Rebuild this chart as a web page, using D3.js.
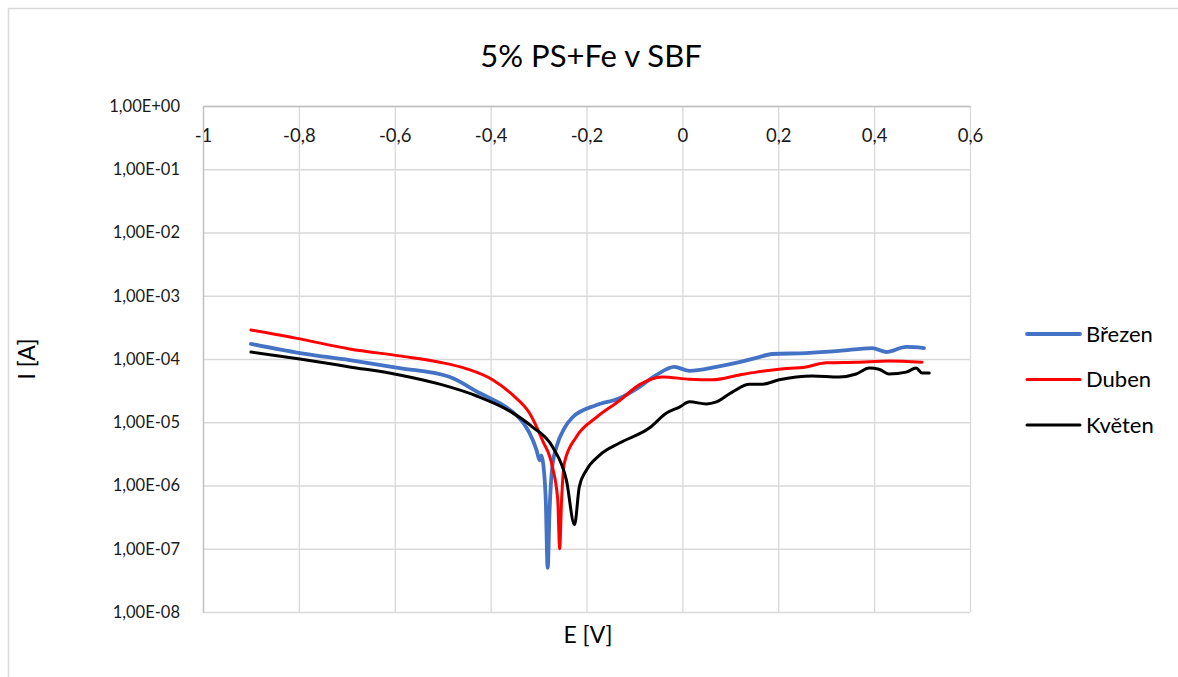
<!DOCTYPE html>
<html>
<head>
<meta charset="utf-8">
<script src="https://cdn.jsdelivr.net/npm/d3@7"></script>
<style>
  body { margin: 0; background: #fff; }
  svg { display: block; }
  svg text { font-family: Lato, "Open Sans", sans-serif; }
</style>
</head>
<body>
<svg id="chart" width="1178" height="677"></svg>
<script>
// E [V], I [A]
var brezenE = [-0.900, -0.798, -0.694, -0.590, -0.485, -0.423, -0.381, -0.354, -0.329, -0.319, -0.304, -0.298, -0.294, -0.290, -0.285, -0.281, -0.277, -0.271, -0.2625, -0.246, -0.229, -0.179, -0.131, -0.090, -0.054, -0.017, 0.015, 0.071, 0.119, 0.154, 0.1875, 0.258, 0.327, 0.396, 0.425, 0.467, 0.504];
var brezenI = [1.73e-4, 1.24e-4, 9.6e-5, 7.2e-5, 5.2e-5, 2.9e-5, 2.0e-5, 1.45e-5, 9.1e-6, 6.8e-6, 3.6e-6, 2.5e-6, 3.0e-6, 2.1e-6, 5.9e-7, 5.0e-8, 4.1e-7, 2.1e-6, 4.1e-6, 8.1e-6, 1.2e-5, 1.87e-5, 2.4e-5, 3.6e-5, 5.6e-5, 7.5e-5, 6.5e-5, 7.5e-5, 8.9e-5, 1.04e-4, 1.2e-4, 1.24e-4, 1.34e-4, 1.49e-4, 1.29e-4, 1.55e-4, 1.49e-4];

var dubenE = [-0.900, -0.798, -0.694, -0.590, -0.506, -0.450, -0.396, -0.354, -0.319, -0.292, -0.271, -0.260, -0.256, -0.252, -0.246, -0.221, -0.179, -0.131, -0.090, -0.042, 0.015, 0.0625, 0.119, 0.154, 0.202, 0.258, 0.300, 0.3625, 0.431, 0.500];
var dubenI = [2.88e-4, 2.08e-4, 1.44e-4, 1.12e-4, 8.9e-5, 7.0e-5, 4.7e-5, 2.7e-5, 1.4e-5, 5.2e-6, 1.96e-6, 5.9e-7, 1.0e-7, 5.9e-7, 2.3e-6, 5.9e-6, 1.2e-5, 2.2e-5, 3.9e-5, 5.2e-5, 4.8e-5, 4.7e-5, 5.6e-5, 6.2e-5, 6.9e-5, 7.5e-5, 8.7e-5, 8.9e-5, 9.3e-5, 8.9e-5];

var kvetenE = [-0.900, -0.798, -0.694, -0.590, -0.506, -0.429, -0.360, -0.3125, -0.271, -0.242, -0.225, -0.215, -0.200, -0.173, -0.131, -0.069, -0.033, -0.006, 0.015, 0.050, 0.071, 0.104, 0.140, 0.167, 0.202, 0.2375, 0.271, 0.327, 0.3625, 0.390, 0.410, 0.431, 0.467, 0.4875, 0.500, 0.515];
var kvetenI = [1.29e-4, 1.0e-4, 7.5e-5, 5.6e-5, 4.0e-5, 2.6e-5, 1.5e-5, 8.4e-6, 4.1e-6, 1.23e-6, 2.4e-7, 9.5e-7, 1.76e-6, 3.0e-6, 4.7e-6, 8.1e-6, 1.4e-5, 1.74e-5, 2.1e-5, 1.95e-5, 2.1e-5, 3.0e-5, 4.0e-5, 4.0e-5, 4.7e-5, 5.2e-5, 5.4e-5, 5.2e-5, 5.8e-5, 7.2e-5, 6.9e-5, 5.8e-5, 6.2e-5, 7.2e-5, 6.0e-5, 6.0e-5];

var seriesNames = ['Březen', 'Duben', 'Květen'];
var colors = ['#4472C4', '#FF0000', '#000000'];
var widths = [3.8, 3, 3];
var xTicks = [-1, -0.8, -0.6, -0.4, -0.2, 0, 0.2, 0.4, 0.6];
var yTicks = [1e0, 1e-1, 1e-2, 1e-3, 1e-4, 1e-5, 1e-6, 1e-7, 1e-8];
var yTickLabels = ['1,00E+00', '1,00E-01', '1,00E-02', '1,00E-03', '1,00E-04', '1,00E-05', '1,00E-06', '1,00E-07', '1,00E-08'];

var series = [[brezenE, brezenI], [dubenE, dubenI], [kvetenE, kvetenI]].map(function(s, i) {
  return {
    name: seriesNames[i],
    points: s[0].map(function(e, j) { return {e: e, i: s[1][j]}; })
  };
});

var svg = d3.select('#chart');
var plotLeft = 203, plotRight = 970, plotTop = 106, plotBottom = 612;

// chart frame (only top and left edges are visible in the picture)
svg.append('rect')
  .attr('x', 8.5).attr('y', 8.5)
  .attr('width', 1300).attr('height', 800)
  .attr('fill', 'none').attr('stroke', '#d9d9d9').attr('stroke-width', 1.5);

var x = d3.scaleLinear().domain([-1, 0.6]).range([plotLeft, plotRight]);
var y = d3.scaleLog().domain([1e-8, 1]).range([plotBottom, plotTop]);

// gridlines
svg.append('g')
  .attr('transform', 'translate(0,' + plotBottom + ')')
  .call(d3.axisBottom(x).tickValues(xTicks).tickSize(-(plotBottom - plotTop)).tickFormat(''))
  .call(function(g) {
    g.select('.domain').remove();
    g.selectAll('line').attr('stroke', '#d9d9d9').attr('stroke-width', 1.3);
  });

svg.append('g')
  .attr('transform', 'translate(' + plotLeft + ',0)')
  .call(d3.axisLeft(y).tickValues(yTicks).tickSize(-(plotRight - plotLeft)).tickFormat(''))
  .call(function(g) {
    g.select('.domain').remove();
    g.selectAll('line').attr('stroke', '#d9d9d9').attr('stroke-width', 1.3);
  });

// x axis crosses at 1 (top), labels below the line
svg.append('g')
  .attr('transform', 'translate(0,' + plotTop + ')')
  .call(d3.axisBottom(x).tickValues(xTicks).tickSize(0).tickPadding(23)
    .tickFormat(function(d) { return String(Math.round(d * 10) / 10).replace('.', ','); }))
  .call(function(g) {
    g.attr('font-family', null);
    g.select('.domain').attr('stroke', '#bfbfbf').attr('stroke-width', 1.3);
    g.selectAll('text').attr('font-size', 18.5).attr('fill', '#1a1a1a');
  });

svg.append('g')
  .attr('transform', 'translate(' + plotLeft + ',0)')
  .call(d3.axisLeft(y).tickValues(yTicks).tickSize(0).tickPadding(23)
    .tickFormat(function(d, i) { return yTickLabels[i]; }))
  .call(function(g) {
    g.attr('font-family', null);
    g.select('.domain').attr('stroke', '#bfbfbf').attr('stroke-width', 1.3);
    g.selectAll('text').attr('font-size', 16.5).attr('fill', '#1a1a1a');
  });

var line = d3.line()
  .curve(d3.curveMonotoneX)
  .x(function(d) { return x(d.e); })
  .y(function(d) { return y(d.i); });

svg.append('g')
  .selectAll('path')
  .data(series)
  .join('path')
  .attr('d', function(d) { return line(d.points); })
  .attr('fill', 'none')
  .attr('stroke', function(d, i) { return colors[i]; })
  .attr('stroke-width', function(d, i) { return widths[i]; })
  .attr('stroke-linejoin', 'round')
  .attr('stroke-linecap', 'round');

// titles
svg.append('text')
  .attr('x', 591).attr('y', 67)
  .attr('text-anchor', 'middle')
  .attr('font-size', 31).attr('fill', '#000')
  .text('5% PS+Fe v SBF');

svg.append('text')
  .attr('x', 588).attr('y', 643)
  .attr('text-anchor', 'middle')
  .attr('font-size', 23).attr('fill', '#000')
  .text('E [V]');

svg.append('text')
  .attr('transform', 'translate(35,359) rotate(-90)')
  .attr('text-anchor', 'middle')
  .attr('font-size', 23).attr('fill', '#000')
  .text('I [A]');

// legend
var legend = svg.append('g')
  .selectAll('g')
  .data(series)
  .join('g')
  .attr('transform', function(d, i) { return 'translate(1027,' + (334 + i * 45.5) + ')'; });

legend.append('line')
  .attr('x1', 0).attr('x2', 53)
  .attr('stroke', function(d, i) { return colors[i]; })
  .attr('stroke-width', function(d, i) { return widths[i]; })
  .attr('stroke-linecap', 'round');

legend.append('text')
  .attr('x', 59).attr('dy', '0.35em')
  .attr('font-size', 22).attr('fill', '#000')
  .text(function(d) { return d.name; });
</script>
</body>
</html>
